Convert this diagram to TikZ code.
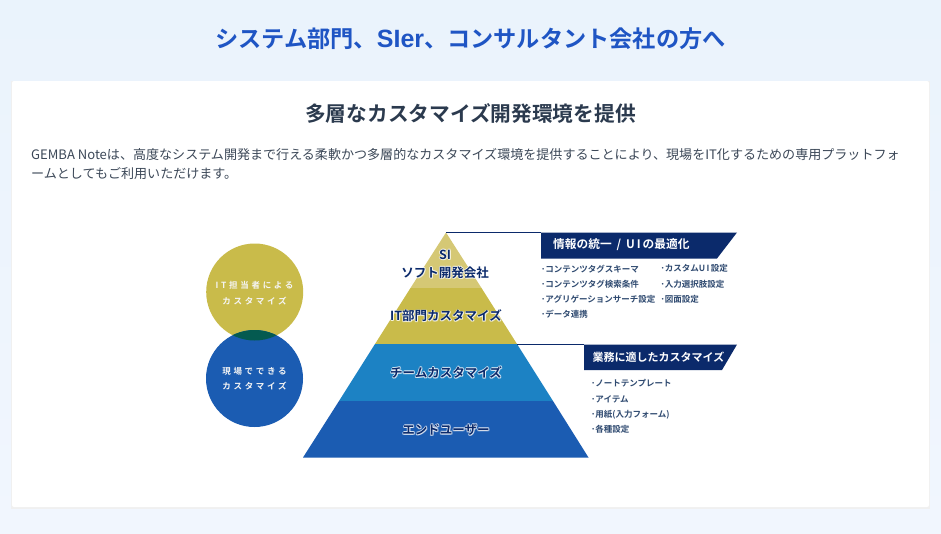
\documentclass[tikz,border=0pt]{standalone}
\usepackage{fontspec}
\usepackage{xcolor}
\setmainfont{Noto Sans CJK JP}
\newfontfamily\boldjp{Noto Sans CJK JP Bold}
\newfontfamily\spacedjp[LetterSpace=32]{Noto Sans CJK JP Bold}
\newfontfamily\latinbold{Liberation Sans Bold}
\usetikzlibrary{positioning, calc}
\definecolor{pagetop}{HTML}{EAF3FC}
\definecolor{pagebottom}{HTML}{F1F6FE}
\definecolor{headblue}{HTML}{1F55C4}
\definecolor{inkdark}{HTML}{2B3A4E}
\definecolor{bodyink}{HTML}{3C4858}
\definecolor{olive}{HTML}{C9BB4A}
\definecolor{palesand}{HTML}{D5C875}
\definecolor{teamblue}{HTML}{1C82C4}
\definecolor{userblue}{HTML}{1B5CB2}
\definecolor{overlapgreen}{HTML}{045A50}
\definecolor{navy}{HTML}{0B2A6B}
\definecolor{listink}{HTML}{2F4A70}
\tikzset{
  circlelabel/.style={text=white!92!gray,font=\spacedjp\fontsize{8.5}{15.5}\selectfont,align=center,inner sep=0pt},
  tierlabel/.style={text=navy,font=\boldjp\fontsize{12.5}{18}\selectfont,align=center,inner sep=0pt},
  tierglow/.style={tierlabel,text=white,text opacity=.55},
  bannerlabel/.style={text=white,font=\boldjp\fontsize{11}{12}\selectfont,inner sep=0pt},
  listlabel/.style={text=listink,font=\boldjp\fontsize{8.5}{15.2}\selectfont,align=left,anchor=north west,inner sep=0pt},
}
\newcommand{\tierbox}[3]{%
  \foreach \dx/\dy in {1/1,1/0,0/1,-.7/0,0/-.7,.7/-.7,-.7/.7}
    \node[tierglow] at ($(#1)+(\dx,\dy)$) {#3};
  \node[tierlabel] (#2) at (#1) {#3};
}
\begin{document}
\begin{tikzpicture}[x=1pt,y=-1pt]
        \useasboundingbox (0,0) rectangle (941,533);
        % page and card
        \shade[top color=pagetop,bottom color=pagebottom] (0,0) rectangle (941,533);
        \fill[gray!12] (11,80.5) rectangle (930,508.5);
        \fill[white,rounded corners=2pt] (12,81) rectangle (929,507);
        \node[text=headblue,font=\boldjp\fontsize{23.2}{28}\selectfont] (headline) at (470.5,38.5) {システム部門、{\latinbold\fontsize{25}{28}\selectfont SIer}、コンサルタント会社の方へ};
        \node[text=inkdark,font=\boldjp\fontsize{20.7}{24}\selectfont] (subhead) at (470.5,113.5) {多層なカスタマイズ開発環境を提供};
        \node[text=bodyink,font=\fontsize{13.05}{19.5}\selectfont,align=left,anchor=north west,inner sep=0pt] (intro) at (31,148) {GEMBA Noteは、高度なシステム開発まで行える柔軟かつ多層的なカスタマイズ環境を提供することにより、現場をIT化するための専用プラットフォ\\ームとしてもご利用いただけます。};
        % circles
        \fill[olive] (254.7,292) circle (48.5);
        \fill[userblue] (254.5,378.5) circle (48.5);
        \begin{scope}
            \clip (254.7,292) circle (48.5);
            \fill[overlapgreen] (254.5,378.5) circle (48.5);
        \end{scope}
        \node[circlelabel] (itcircle) at (254.5,293) {IT担当者による\\カスタマイズ};
        \node[circlelabel] (fieldcircle) at (254.5,378.5) {現場でできる\\カスタマイズ};
        % pyramid
        \coordinate (apex) at (446,232.5);
        \fill[palesand] (apex) -- (410.5,288) -- (481.5,288) -- cycle;
        \fill[olive] (410.5,288) -- (375,344) -- (517,344) -- (481.5,288) -- cycle;
        \fill[teamblue] (375,344) -- (339,401) -- (553,401) -- (517,344) -- cycle;
        \fill[userblue] (339,401) -- (303,457.5) -- (588.5,457.5) -- (553,401) -- cycle;
        \tierbox{445,264}{situer}{SI\\ソフト開発会社}
        \tierbox{446,316}{ittier}{IT部門カスタマイズ}
        \tierbox{446,372.5}{teamtier}{チームカスタマイズ}
        \tierbox{446,430}{usertier}{エンドユーザー}
        % banners
        \coordinate (bannerone) at (541,232.5);
        \coordinate (bannertwo) at (584,344.5);
        \coordinate (tiertop) at (517,344.5);
        \fill[navy] (bannerone) -- (737,232.5) -- (717,258.5) -- (541,258.5) -- cycle;
        \fill[navy] (bannertwo) -- (737,344.5) -- (722,370) -- (584,370) -- cycle;
        \draw[navy,line width=1.2pt] (apex) -- (bannerone);
        \draw[navy,line width=1.2pt] (tiertop) -- (bannertwo);
        \node[bannerlabel,font=\boldjp\fontsize{11.7}{12}\selectfont,anchor=west] (unifylabel) at (553,245) {情報の統一\hspace{5pt}/\hspace{5pt}U\,I\,の最適化};
        \node[bannerlabel,anchor=west] (fitlabel) at (592.5,357) {業務に適したカスタマイズ};
        \node[listlabel] (listone) at (541,264.5) {･コンテンツタグスキーマ\\･コンテンツタグ検索条件\\･アグリゲーションサーチ設定\\･データ連携};
        \node[listlabel] (listtwo) at (660.5,264.5) {･カスタムU\,I\,設定\\･入力選択肢設定\\･図面設定};
        \node[listlabel] (listthree) at (591,379.5) {･ノートテンプレート\\･アイテム\\･用紙(入力フォーム)\\･各種設定};
    \end{tikzpicture}
\end{document}
